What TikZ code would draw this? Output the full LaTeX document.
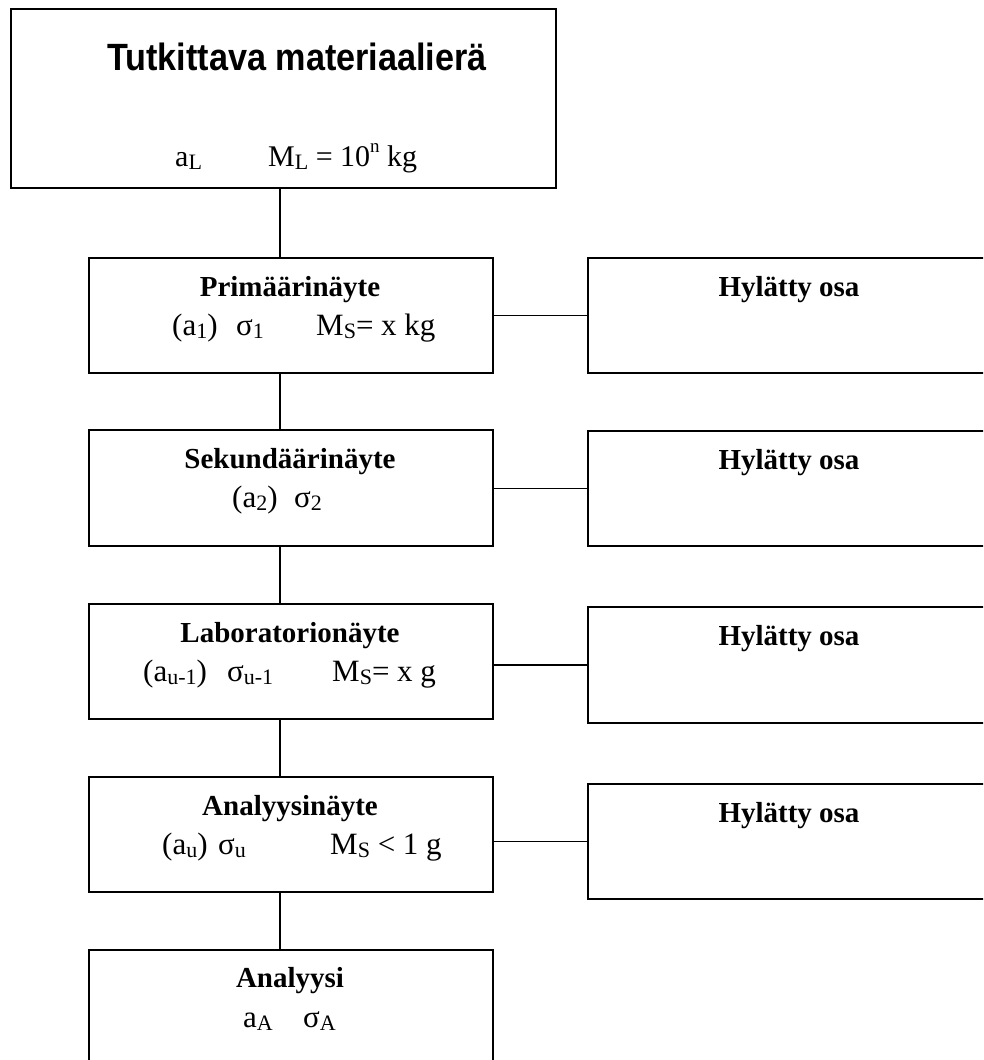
\documentclass[tikz,border=0pt]{standalone}
\usepackage{fontspec}
\setmainfont{Liberation Serif}
\newfontfamily\titlefont{Liberation Sans}
\newcommand{\sbs}[1]{\raisebox{-0.1em}{\fontsize{22}{22}\selectfont #1}}
\newcommand{\sps}[1]{\raisebox{0.45em}{\fontsize{19}{19}\selectfont #1}}
\begin{document}
\begin{tikzpicture}[x=1pt,y=-1pt,
  box/.style={draw, line width=2pt, rectangle, inner sep=0pt, anchor=north west},
  link/.style={line width=1.8pt},
  txt/.style={inner sep=0pt, anchor=base west, font=\fontsize{31}{31}\selectfont},
  hd/.style={inner sep=0pt, anchor=base, font=\fontsize{29}{29}\selectfont\bfseries}]
\useasboundingbox (0,0) rectangle (983,1060);
\clip (0,0) rectangle (983,1060);
\coordinate (spine) at (280,0);
% boxes
\node[box, minimum width=545pt, minimum height=179pt] (top) at (10,8) {};
\node[box, minimum width=404pt, minimum height=115pt] (p) at (88,257) {};
\node[box, minimum width=404pt, minimum height=116pt] (s) at (88,429) {};
\node[box, minimum width=404pt, minimum height=115pt] (l) at (88,603) {};
\node[box, minimum width=404pt, minimum height=115pt] (an) at (88,776) {};
\node[box, minimum width=404pt, minimum height=130pt] (a) at (88,949) {};
\node[box, minimum width=420pt, minimum height=115pt] (h1) at (587,257) {};
\node[box, minimum width=420pt, minimum height=115pt] (h2) at (587,430) {};
\node[box, minimum width=420pt, minimum height=116pt] (h3) at (587,606) {};
\node[box, minimum width=420pt, minimum height=115pt] (h4) at (587,783) {};
% connectors
\draw[link] (top.south -| spine) -- (p.north -| spine);
\draw[link] (p.south -| spine) -- (s.north -| spine);
\draw[link] (s.south -| spine) -- (l.north -| spine);
\draw[link] (l.south -| spine) -- (an.north -| spine);
\draw[link] (an.south -| spine) -- (a.north -| spine);
\draw[link] (p.east |- h1.west) -- (h1.west);
\draw[link] (s.east |- h2.west) -- (h2.west);
\draw[link] (l.east |- h3.west) -- (h3.west);
\draw[link] (an.east |- h4.west) -- (h4.west);
% title box texts
\node[inner sep=0pt, anchor=base, font=\fontsize{38}{38}\titlefont\bfseries] (tt) at (297,70) {\scalebox{0.9}[1]{Tutkittava materiaalierä}};
\node[txt, font=\fontsize{30}{30}\selectfont] (t1) at (175,166) {a\sbs{L}};
\node[txt, font=\fontsize{30}{30}\selectfont] (t2) at (268,166) {M\sbs{L} = 10\sps{n} kg};
% primary
\node[hd] (ph) at (290,296) {Primäärinäyte};
\node[txt] (p1) at (172,335) {(a\sbs{1})};
\node[txt] (p2) at (236,335) {σ\sbs{1}};
\node[txt] (p3) at (316,335) {M\sbs{S}= x kg};
% secondary
\node[hd] (sh) at (290,468) {Sekundäärinäyte};
\node[txt] (s1) at (232,507) {(a\sbs{2})};
\node[txt] (s2) at (294,507) {σ\sbs{2}};
% laboratory
\node[hd] (lh) at (290,642) {Laboratorionäyte};
\node[txt] (l1) at (143,681) {(a\sbs{u-1})};
\node[txt] (l2) at (227,681) {σ\sbs{u-1}};
\node[txt] (l3) at (332,681) {M\sbs{S}= x g};
% analysis sample
\node[hd] (anh) at (290,815) {Analyysinäyte};
\node[txt] (an1) at (162,854) {(a\sbs{u})};
\node[txt] (an2) at (218,854) {σ\sbs{u}};
\node[txt] (an3) at (330,854) {M\sbs{S} < 1 g};
% analysis
\node[hd] (ah) at (290,987) {Analyysi};
\node[txt] (a1) at (243,1027) {a\sbs{A}};
\node[txt] (a2) at (303,1027) {σ\sbs{A}};
% rejected parts
\node[hd] (hh1) at (789,296) {Hylätty osa};
\node[hd] (hh2) at (789,469) {Hylätty osa};
\node[hd] (hh3) at (789,645) {Hylätty osa};
\node[hd] (hh4) at (789,822) {Hylätty osa};
\end{tikzpicture}
\end{document}
